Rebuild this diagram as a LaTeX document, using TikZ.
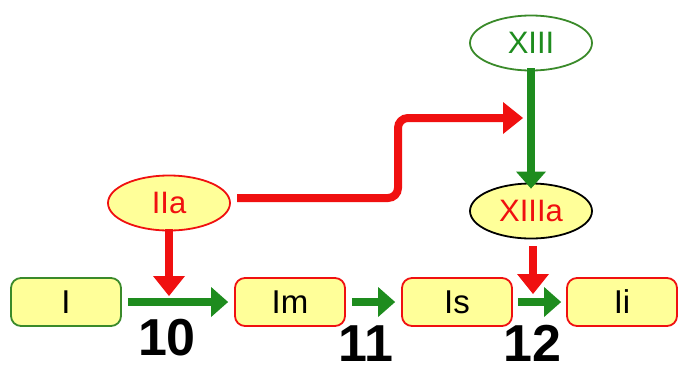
\documentclass[tikz,border=0pt]{standalone}
\usepackage{fontspec}
\setmainfont{Liberation Sans}
\usetikzlibrary{arrows.meta,shapes.geometric}
\definecolor{fillY}{HTML}{FFFF99}
\definecolor{grn}{HTML}{1E8C1E}
\definecolor{rd}{HTML}{F01010}
\definecolor{bgrn}{HTML}{3A8A2A}
\tikzset{
  boxnode/.style={draw=#1, line width=1.8pt, fill=fillY, rounded corners=10pt,
    minimum width=110pt, minimum height=48pt, inner sep=0pt, font=\fontsize{33}{33}\selectfont},
  ellnode/.style={ellipse, draw=#1, line width=1.8pt, fill=fillY,
    minimum width=122pt, minimum height=55pt, inner sep=0pt, font=\fontsize{31}{31}\selectfont},
  garrow/.style={draw=grn, line width=8pt, -{Triangle[length=17pt,width=30pt,line width=0pt]}},
  rarrow/.style={draw=rd, line width=8pt, -{Triangle[length=20pt,width=32pt,line width=0pt]}},
  numlab/.style={font=\bfseries\fontsize{52}{52}\selectfont, inner sep=0pt}
}
\begin{document}
\begin{tikzpicture}[x=1pt,y=-1pt]
\useasboundingbox (0,0) rectangle (679,373);
\node[boxnode=bgrn] (I) at (66,302) {I};
\node[boxnode=rd] (Im) at (290,302) {Im};
\node[boxnode=rd] (Is) at (457,302) {Is};
\node[boxnode=rd] (Ii) at (622,302) {Ii};
\node[ellnode=rd, text=rd] (IIa) at (169,203) {IIa};
\node[ellnode=bgrn, fill=white, text=grn] (XIII) at (531,43) {XIII};
\node[ellnode=black, text=rd] (XIIIa) at (531,211) {XIIIa};
\coordinate (m1) at (169,296);
\coordinate (m3) at (533,294);
\coordinate (s3) at (533,246);
\coordinate (c1) at (398,198);
\coordinate (c2) at (398,118);
\coordinate (t1) at (523,118);
\coordinate (s1) at (237,198);
\draw[garrow] ([xshift=6pt]I.east) -- ([xshift=-6pt]Im.west);
\draw[garrow] ([xshift=6pt]Im.east) -- ([xshift=-6pt]Is.west);
\draw[garrow] ([xshift=5pt]Is.east) -- ([xshift=-5pt]Ii.west);
\draw[garrow] ([yshift=3pt]XIII.south) -- ([yshift=-6pt]XIIIa.north);
\draw[rarrow] ([yshift=2pt]IIa.south) -- (m1);
\draw[rarrow] (s3) -- (m3);
\draw[rarrow, rounded corners=10pt] (s1) -- (c1) -- (c2) -- (t1);
\node[numlab] (n10) at (167,338) {10};
\node[numlab] (n11) at (366,344) {11};
\node[numlab] (n12) at (532,343) {12};
\end{tikzpicture}
\end{document}
